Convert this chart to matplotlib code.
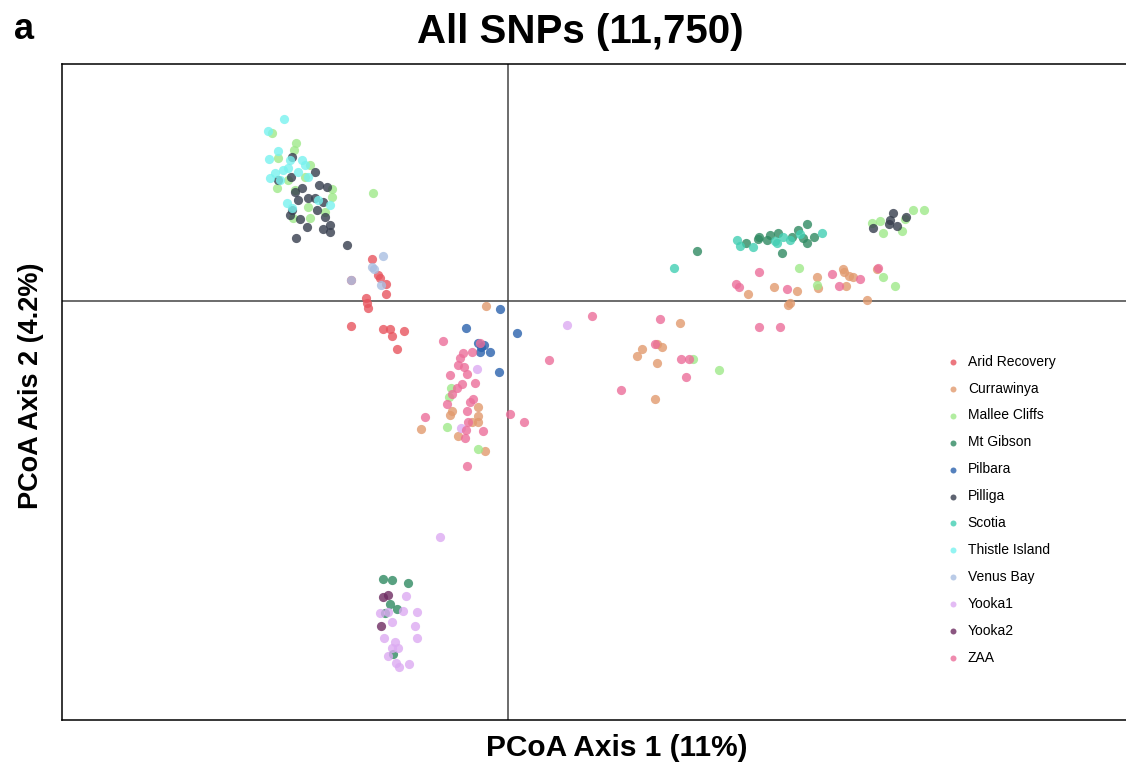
import numpy as np
import matplotlib
matplotlib.use('Agg')
import matplotlib.pyplot as plt

plt.rcParams['font.family'] = ['Liberation Sans', 'DejaVu Sans']

# PCoA scores (axis 1, axis 2), one pair per sample
arid_recovery = [(-1.36, 0.42), (-1.30, 0.26), (-1.28, 0.23), (-1.57, 0.21), (-1.22, 0.17),
                 (-1.22, 0.07), (-1.42, 0.03), (-1.41, -0.02), (-1.40, -0.07), (-1.57, -0.25),
                 (-1.25, -0.28), (-1.18, -0.28), (-1.16, -0.35), (-1.04, -0.30), (-1.11, -0.48)]
currawinya = [(-0.22, -0.05), (-0.30, -1.06), (-0.56, -1.10), (-0.58, -1.14), (-0.30, -1.15),
              (-0.36, -1.21), (-0.30, -1.21), (-0.87, -1.28), (-0.50, -1.35), (-0.23, -1.50),
              (1.72, -0.22), (1.34, -0.48), (1.29, -0.55), (1.49, -0.43), (1.54, -0.46),
              (1.49, -0.62), (1.47, -0.98), (2.40, 0.07), (2.66, 0.14), (2.89, 0.10),
              (2.80, -0.04), (2.82, -0.02), (3.09, 0.24), (3.10, 0.13), (3.35, 0.32),
              (3.36, 0.29), (3.41, 0.25), (3.45, 0.24), (3.38, 0.15), (3.59, 0.01), (3.69, 0.32)]
mallee_cliffs = [(-2.36, 1.68), (-2.12, 1.58), (-2.14, 1.51), (-2.30, 1.43), (-1.98, 1.36),
                 (-2.20, 1.21), (-2.03, 1.24), (-2.31, 1.13), (-1.76, 1.12), (-1.76, 1.04),
                 (-2.00, 0.94), (-1.98, 0.83), (-2.15, 0.83), (-2.13, 1.11), (-1.83, 0.89),
                 (-1.35, 1.08), (-0.57, -0.87), (-0.59, -0.96), (-0.61, -1.26), (-0.30, -1.48),
                 (1.85, -0.58), (2.11, -0.69), (3.64, 0.78), (3.72, 0.80), (3.75, 0.68),
                 (3.94, 0.70), (4.05, 0.91), (4.16, 0.91), (3.97, 0.82), (2.91, 0.33),
                 (3.09, 0.16), (3.75, 0.24), (3.87, 0.15)]
mt_gibson = [(1.89, 0.50), (2.38, 0.58), (2.51, 0.64), (2.50, 0.62), (2.59, 0.61),
             (2.62, 0.66), (2.70, 0.68), (2.74, 0.48), (2.84, 0.64), (2.90, 0.71),
             (2.99, 0.77), (2.99, 0.58), (3.06, 0.64), (2.95, 0.63),
             (-1.25, -2.78), (-1.16, -2.79), (-1.00, -2.82), (-1.18, -3.03), (-1.11, -3.08),
             (-1.23, -3.12), (-1.15, -3.53)]
pilbara = [(-0.42, -0.27), (-0.30, -0.42), (-0.24, -0.44), (-0.27, -0.46), (-0.28, -0.51),
           (-0.18, -0.51), (-0.08, -0.08), (0.09, -0.32), (-0.09, -0.71)]
pilliga = [(-2.16, 1.44), (-1.93, 1.29), (-2.30, 1.21), (-2.17, 1.24), (-1.89, 1.16),
           (-1.81, 1.14), (-2.06, 1.13), (-2.13, 1.09), (-2.10, 1.01), (-2.00, 1.03),
           (-1.93, 1.03), (-1.85, 0.99), (-1.91, 0.91), (-2.16, 0.91), (-2.18, 0.86),
           (-2.08, 0.82), (-1.83, 0.84), (-1.78, 0.76), (-2.01, 0.74), (-1.85, 0.72),
           (-1.78, 0.69), (-2.12, 0.63), (-1.61, 0.56),
           (3.85, 0.88), (3.65, 0.73), (3.81, 0.77), (3.89, 0.75), (3.98, 0.84), (3.82, 0.81)]
scotia = [(1.66, 0.33), (2.29, 0.61), (2.32, 0.55), (2.45, 0.54), (2.67, 0.60),
          (2.69, 0.58), (2.75, 0.64), (2.92, 0.67), (3.14, 0.68), (2.82, 0.61)]
thistle_island = [(-2.24, 1.82), (-2.40, 1.70), (-2.39, 1.42), (-2.30, 1.50), (-2.38, 1.23),
                  (-2.33, 1.28), (-2.25, 1.31), (-2.18, 1.41), (-2.20, 1.33), (-2.06, 1.41),
                  (-2.10, 1.29), (-2.00, 1.24), (-2.21, 0.98), (-2.16, 0.93), (-1.90, 1.01),
                  (-1.78, 0.96), (-2.03, 1.36), (-2.28, 1.21)]
venus_bay = [(-1.25, 0.45), (-1.36, 0.34), (-1.34, 0.32), (-1.57, 0.21), (-1.27, 0.16)]
yooka1 = [(0.59, -0.24), (-0.31, -0.68), (-0.47, -1.27), (-0.68, -2.36), (-1.02, -2.95),
          (-1.28, -3.12), (-1.20, -3.11), (-1.05, -3.10), (-0.91, -3.11), (-1.16, -3.21),
          (-0.93, -3.25), (-1.24, -3.37), (-0.91, -3.37), (-1.13, -3.41), (-1.16, -3.47),
          (-1.10, -3.47), (-1.20, -3.55), (-1.12, -3.62), (-1.09, -3.66), (-0.99, -3.63)]
yooka2 = [(-1.25, -2.96), (-1.20, -2.94), (-1.27, -3.25)]
zaa = [(-0.65, -0.40), (-0.28, -0.42), (-0.36, -0.51), (-0.45, -0.52), (-0.48, -0.57),
       (-0.50, -0.64), (-0.44, -0.66), (-0.41, -0.73), (-0.58, -0.74), (-0.33, -0.82),
       (-0.46, -0.83), (-0.51, -0.87), (-0.56, -0.93), (-0.61, -1.03), (-0.35, -0.98),
       (-0.38, -1.01), (-0.41, -1.10), (-0.40, -1.21), (-0.25, -1.30), (-0.42, -1.29),
       (-0.43, -1.37), (-0.83, -1.16), (-0.41, -1.65), (0.41, -0.59), (0.84, -0.15),
       (1.52, -0.18), (1.47, -0.43), (1.73, -0.58), (1.81, -0.58), (1.78, -0.76),
       (1.13, -0.89), (0.02, -1.13), (0.16, -1.21), (2.51, 0.29), (2.28, 0.17),
       (2.31, 0.14), (2.79, 0.12), (3.24, 0.27), (3.31, 0.15), (3.52, 0.22),
       (3.70, 0.33), (2.51, -0.26), (2.72, -0.26)]

populations = ['Arid Recovery', 'Currawinya', 'Mallee Cliffs', 'Mt Gibson', 'Pilbara', 'Pilliga',
               'Scotia', 'Thistle Island', 'Venus Bay', 'Yooka1', 'Yooka2', 'ZAA']
samples = [arid_recovery, currawinya, mallee_cliffs, mt_gibson, pilbara, pilliga,
           scotia, thistle_island, venus_bay, yooka1, yooka2, zaa]
colours = ['#e8555f', '#e19a6e', '#9fe98a', '#2f8a62', '#2a62ad', '#363d4d',
           '#42cfb3', '#78f2ef', '#a9bfe2', '#dcaaf2', '#6e2c62', '#ec6e9a']

fig = plt.figure(figsize=(11.26, 7.64), dpi=100)
# the original panel runs past the right edge of the picture
ax = fig.add_axes([62 / 1126, 44 / 764, 1110 / 1126, 656 / 764])

for name, pts, col in zip(populations, samples, colours):
    pts = np.array(pts)
    ax.scatter(pts[:, 0], pts[:, 1], s=44, color=col, alpha=0.8, linewidths=0, label=name)

ax.axhline(0, color='#444444', lw=1.1, zorder=0)
ax.axvline(0, color='#444444', lw=1.1, zorder=0)
ax.set_xlim(-4.46, 6.64)
ax.set_ylim(-4.19, 2.37)
ax.set_xticks([])
ax.set_yticks([])
for sp in ax.spines.values():
    sp.set_linewidth(1.1)
    sp.set_color('black')

ax.set_xlabel('PCoA Axis 1 (11%)', fontsize=21.5, fontweight='bold', labelpad=10)
ax.set_ylabel('PCoA Axis 2 (4.2%)', fontsize=19.5, fontweight='bold')
ax.yaxis.set_label_coords(-0.016, 0.51)

leg = ax.legend(loc='upper left', bbox_to_anchor=(0.796, 0.557), frameon=False,
                fontsize=10, markerscale=0.65, handlelength=1.0, handletextpad=0.6,
                labelspacing=0.93, borderaxespad=0, borderpad=0)

fig.text(0.515, 0.958, 'All SNPs (11,750)', ha='center', va='center',
         fontsize=29, fontweight='bold')
fig.text(0.012, 0.962, 'a', ha='left', va='center', fontsize=26, fontweight='bold')

fig.savefig('out.png', dpi=100)
